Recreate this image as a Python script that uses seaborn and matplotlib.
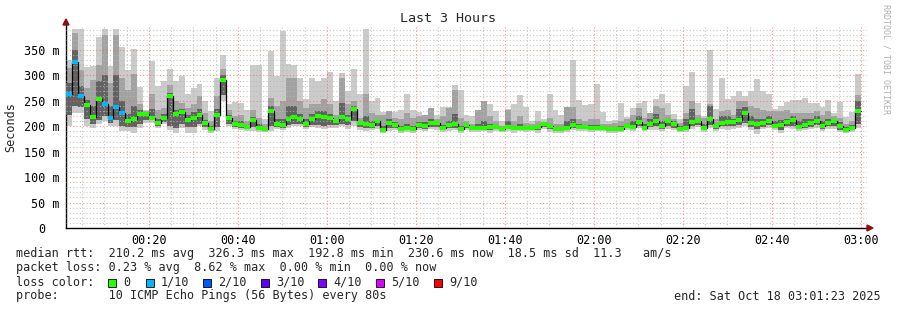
import numpy as np
import pandas as pd
import matplotlib
matplotlib.use("Agg")
import matplotlib.pyplot as plt
import seaborn as sns
from matplotlib.patches import Rectangle, Polygon
from matplotlib.transforms import ScaledTranslation

# ---------------- data (ms, one value per 80 s step) ----------------
median_ms = [263, 326, 259, 241, 219, 253, 244, 216, 238, 227, 210, 214, 225, 224, 217, 206, 217, 259, 224, 229, 212, 216,
             222, 206, 195, 222, 291, 217, 204, 202, 199, 212, 197, 195, 231, 204, 202, 214, 219, 214, 205, 215, 221, 219, 216,
             210, 219, 215, 235, 206, 205, 202, 210, 192, 206, 203, 194, 197, 195, 203, 200, 206, 206, 197, 202, 204, 194,
             202, 196, 196, 196, 199, 199, 195, 199, 196, 196, 196, 196, 199, 204, 200, 194, 194, 197, 202, 199, 199, 196, 196,
             196, 194, 194, 194, 200, 199, 208, 197, 204, 210, 200, 210, 204, 195, 197, 208, 210, 197, 214, 200, 206, 209, 208,
             212, 227, 207, 204, 206, 210, 201, 202, 208, 212, 199, 202, 207, 211, 201, 206, 210, 200, 192, 196, 230]
max_ms = [330, 392, 392, 316, 318, 375, 392, 318, 392, 356, 310, 352, 277, 232, 328, 279, 290, 312, 290, 298, 264, 276,
          284, 250, 230, 295, 340, 243, 248, 246, 233, 320, 320, 215, 348, 299, 387, 322, 320, 295, 253, 295, 289, 295, 306,
          250, 304, 270, 312, 263, 392, 250, 255, 229, 231, 229, 233, 263, 233, 229, 223, 236, 223, 238, 238, 282, 272,
          222, 220, 233, 250, 243, 231, 210, 235, 243, 261, 238, 210, 231, 214, 263, 233, 223, 238, 331, 251, 241, 243, 284,
          229, 210, 212, 246, 219, 236, 245, 250, 223, 253, 263, 246, 225, 214, 280, 306, 245, 220, 351, 235, 295, 253, 259,
          270, 259, 269, 294, 270, 263, 235, 240, 248, 251, 251, 255, 245, 245, 238, 251, 227, 248, 218, 229, 303]
min_ms = [200, 226, 226, 200, 197, 204, 210, 200, 200, 191, 190, 187, 197, 207, 207, 197, 204, 193, 187, 197, 187, 187,
          200, 192, 187, 190, 250, 200, 195, 192, 190, 190, 188, 188, 190, 195, 192, 197, 200, 200, 195, 198, 197, 195, 197,
          197, 200, 195, 200, 192, 190, 193, 195, 186, 190, 192, 186, 188, 186, 192, 190, 195, 193, 188, 190, 192, 186,
          192, 188, 188, 190, 186, 190, 188, 190, 186, 190, 188, 190, 187, 194, 188, 186, 187, 188, 192, 190, 190, 188, 190,
          190, 186, 187, 188, 192, 190, 196, 190, 193, 192, 190, 194, 192, 188, 188, 194, 198, 188, 196, 190, 195, 193, 195,
          196, 200, 192, 185, 194, 196, 192, 186, 196, 194, 190, 192, 194, 196, 190, 195, 194, 188, 186, 188, 196]
high2_ms = [315, 384, 310, 276, 292, 321, 380, 285, 380, 295, 272, 302, 243, 230, 263, 233, 236, 282, 250, 246, 236, 243,
            259, 227, 210, 259, 312, 233, 220, 223, 210, 233, 217, 205, 255, 240, 250, 295, 295, 250, 236, 243, 243, 253, 243,
            223, 295, 243, 250, 217, 263, 227, 223, 223, 231, 217, 214, 227, 217, 220, 223, 236, 214, 220, 236, 272, 217,
            210, 204, 233, 250, 220, 210, 200, 233, 210, 220, 207, 204, 210, 207, 217, 204, 204, 238, 238, 214, 210, 214, 215,
            204, 204, 207, 210, 214, 223, 236, 217, 227, 240, 236, 223, 214, 207, 227, 250, 223, 217, 244, 214, 230, 233, 223,
            250, 250, 240, 236, 233, 230, 230, 230, 233, 227, 227, 227, 227, 230, 223, 230, 220, 217, 204, 210, 261]
low2_ms = [222, 240, 238, 215, 205, 212, 220, 206, 212, 200, 198, 198, 205, 212, 212, 200, 208, 200, 197, 205, 198, 198,
           205, 198, 190, 198, 262, 205, 199, 197, 195, 198, 192, 191, 200, 199, 197, 202, 205, 205, 199, 203, 202, 200, 202,
           202, 205, 202, 210, 199, 197, 197, 200, 189, 197, 197, 190, 192, 190, 197, 195, 199, 198, 192, 196, 197, 190,
           197, 192, 192, 193, 192, 194, 191, 194, 192, 193, 192, 193, 193, 198, 194, 190, 190, 192, 197, 194, 194, 192, 193,
           193, 190, 190, 191, 196, 194, 201, 193, 198, 200, 194, 200, 197, 192, 192, 200, 203, 192, 203, 194, 200, 200, 200,
           203, 207, 198, 194, 199, 202, 196, 193, 201, 201, 194, 196, 199, 202, 195, 200, 201, 193, 189, 192, 205]
core_high_ms = [285, 350, 280, 252, 240, 290, 300, 240, 300, 250, 225, 240, 232, 228, 235, 215, 225, 265, 232, 235, 222, 228,
                235, 212, 200, 235, 300, 222, 210, 210, 203, 218, 205, 198, 240, 215, 215, 240, 240, 225, 215, 225, 230, 230, 225,
                215, 245, 222, 240, 210, 220, 210, 215, 200, 215, 208, 200, 205, 200, 208, 208, 215, 208, 203, 210, 225, 200,
                205, 200, 205, 210, 205, 203, 197, 210, 200, 205, 200, 200, 203, 206, 205, 198, 198, 210, 215, 205, 203, 202, 203,
                200, 198, 198, 200, 205, 210, 220, 205, 215, 225, 210, 215, 210, 200, 215, 235, 215, 205, 240, 205, 220, 220, 215,
                235, 237, 220, 215, 215, 220, 210, 212, 215, 220, 210, 215, 215, 220, 210, 215, 215, 208, 198, 202, 250]
loss_1of10_steps = [0, 1, 2, 6, 7, 8, 9]

x_tick_minutes = [20, 40, 60, 80, 100, 120, 140, 160, 180]
x_tick_labels = ["00:20", "00:40", "01:00", "01:20", "01:40", "02:00", "02:20", "02:40", "03:00"]
y_tick_values = [0, 50, 100, 150, 200, 250, 300, 350]
y_tick_labels = ["0", "50 m", "100 m", "150 m", "200 m", "250 m", "300 m", "350 m"]
loss_legend = ["0", "1/10", "2/10", "3/10", "4/10", "5/10", "9/10"]
loss_colors = ["#26ff00", "#00b8ff", "#0059ff", "#5e00ff", "#7e00ff", "#dd00ff", "#ff0000"]

start_min = 1 + 23 / 60.0          # 00:01:23
step_min = 80 / 60.0               # 80 s
span_min = 180.0

n = len(median_ms)
df = pd.DataFrame({
    "t": start_min + step_min * np.arange(n),
    "med": median_ms, "mx": max_ms, "mn": min_ms,
    "hi2": high2_ms, "lo2": low2_ms, "chi": core_high_ms,
})
df["loss"] = 0
df.loc[loss_1of10_steps, "loss"] = 1
edges = np.append(df["t"].values, df["t"].values[-1] + step_min)

def ext(col):
    v = df[col].values
    return np.append(v, v[-1])

# ---------------- figure ----------------
W, H = 897, 310
sns.set_theme(style="white")
plt.rcParams["font.family"] = ["DejaVu Sans Mono", "DejaVu Sans"]
MONO = 8.5

fig = plt.figure(figsize=(W / 100, H / 100), dpi=100)
fig.patch.set_facecolor("white")
ax = fig.add_axes([66 / W, (H - 228) / H, 801 / W, 203.4 / H])
ax.set_facecolor("white")
ax.set_xlim(start_min, start_min + span_min)
ax.set_ylim(0, 400)

# smoke
ax.fill_between(edges, ext("mn"), ext("mx"), step="post", color="#cbcbcb", lw=0, zorder=1)
ax.fill_between(edges, ext("lo2"), ext("hi2"), step="post", color="#a2a2a2", lw=0, zorder=2)
ax.fill_between(edges, ext("lo2"), ext("chi"), step="post", color="#626262", lw=0, zorder=3)

# grid
for v in range(10, 400, 10):
    major = v % 50 == 0
    ax.axhline(v, color="#ff6060" if major else "#b8b8b8", lw=0.8,
               dashes=(1, 2), alpha=0.7 if major else 0.8, zorder=4)
for m in range(5, 185, 5):
    if start_min < m < start_min + span_min:
        major = m % 20 == 0
        ax.axvline(m, color="#ff6060" if major else "#b8b8b8", lw=0.8,
                   dashes=(1, 2), alpha=0.7 if major else 0.8, zorder=4)

# median
line_df = pd.DataFrame({"t": edges, "med": ext("med")})
sns.lineplot(data=line_df, x="t", y="med", drawstyle="steps-post", color="black",
             linewidth=0.9, ax=ax, estimator=None, sort=False, zorder=5)
ax.hlines(df["med"], df["t"], df["t"] + step_min,
          colors=[loss_colors[k] for k in df["loss"]], linewidth=3.0, zorder=6)

# axes styling
for s in ["top", "right"]:
    ax.spines[s].set_visible(False)
for s in ["left", "bottom"]:
    ax.spines[s].set_color("#000000")
    ax.spines[s].set_linewidth(1.0)
ax.set_xlabel("")
ax.set_ylabel("")
ax.set_xticks(x_tick_minutes)
ax.set_xticklabels(x_tick_labels, fontsize=MONO)
ax.set_yticks(y_tick_values)
ax.set_yticklabels(y_tick_labels, fontsize=MONO)
ax.tick_params(axis="both", length=0, colors="black")
ax.tick_params(axis="x", pad=4)
ax.tick_params(axis="y", pad=4.5)
for lab in ax.get_yticklabels():
    if lab.get_text() == "0":
        lab.set_transform(lab.get_transform() + ScaledTranslation(-14.2 / 100, 0, fig.dpi_scale_trans))

def fx(px):
    return px / W

def fy(py):
    return 1 - py / H

# arrows
fig.add_artist(Polygon([[fx(63), fy(25)], [fx(69), fy(25)], [fx(66), fy(19)]],
                       closed=True, color="#8b1010", transform=fig.transFigure))
fig.add_artist(Polygon([[fx(867), fy(225)], [fx(867), fy(231)], [fx(873), fy(228)]],
                       closed=True, color="#8b1010", transform=fig.transFigure))

# titles
fig.text(fx(448), fy(19), "Last 3 Hours", ha="center", va="center", fontsize=9.6)
fig.text(fx(11), fy(127), "Seconds", ha="center", va="center", rotation=90, fontsize=MONO)
fig.text(fx(886), fy(4), "RRDTOOL / TOBI OETIKER", ha="center", va="top", rotation=270,
         fontsize=6.0, color="#b0b0b0")

# legend / stats
fig.text(fx(16), fy(254), "median rtt:  210.2 ms avg  326.3 ms max  192.8 ms min  230.6 ms now  18.5 ms sd  11.3   am/s",
         ha="left", va="center", fontsize=MONO)
fig.text(fx(16), fy(268), "packet loss: 0.23 % avg  8.62 % max  0.00 % min  0.00 % now",
         ha="left", va="center", fontsize=MONO)
fig.text(fx(16), fy(282), "loss color:", ha="left", va="center", fontsize=MONO)
sq_x = [108, 146, 203, 261, 318, 376, 434]
for xs, lbl, col in zip(sq_x, loss_legend, loss_colors):
    fig.add_artist(Rectangle((fx(xs), fy(286.5)), 7.5 / W, 7.5 / H, facecolor=col,
                             edgecolor="black", lw=0.6, transform=fig.transFigure))
    fig.text(fx(xs + 15), fy(282), lbl, ha="left", va="center", fontsize=MONO)
fig.text(fx(16), fy(296), "probe:       10 ICMP Echo Pings (56 Bytes) every 80s",
         ha="left", va="center", fontsize=MONO)
fig.text(fx(881), fy(296), "end: Sat Oct 18 03:01:23 2025", ha="right", va="center", fontsize=MONO)

fig.savefig("out.png", dpi=100, facecolor="white")
